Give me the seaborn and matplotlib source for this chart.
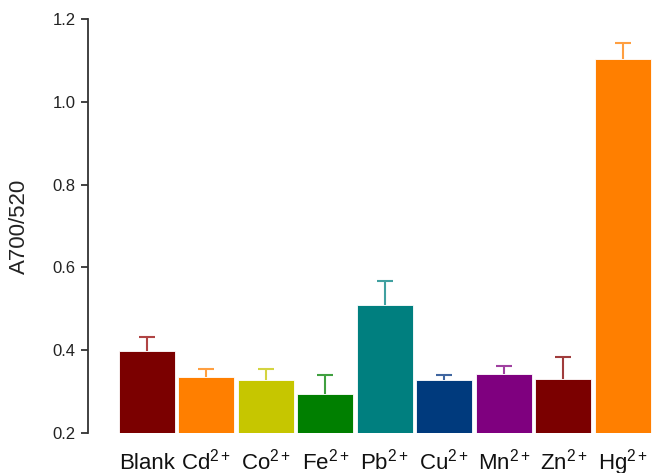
import matplotlib
matplotlib.use("Agg")
import matplotlib.pyplot as plt
import seaborn as sns
import pandas as pd

categories = ["Blank", "Cd$^{2+}$", "Co$^{2+}$", "Fe$^{2+}$", "Pb$^{2+}$",
              "Cu$^{2+}$", "Mn$^{2+}$", "Zn$^{2+}$", "Hg$^{2+}$"]
values = [0.397, 0.336, 0.327, 0.293, 0.508, 0.327, 0.342, 0.331, 1.104]
errors = [0.035, 0.019, 0.028, 0.048, 0.059, 0.014, 0.019, 0.052, 0.039]
bar_colors = ["#7B0000", "#FF7F00", "#C6C600", "#007F00", "#007F7F",
              "#003A7D", "#7F007F", "#7B0000", "#FF7F00"]
err_colors = ["#B04444", "#FF9F40", "#D4D440", "#40A040", "#40A0A0",
              "#4066A0", "#A040A0", "#A03C3C", "#FF9F40"]
yticks = [0.2, 0.4, 0.6, 0.8, 1.0, 1.2]

sns.set_theme(style="white")
plt.rcParams["font.family"] = ["Liberation Sans", "DejaVu Sans"]
plt.rcParams["mathtext.fontset"] = "custom"
plt.rcParams["mathtext.rm"] = "Liberation Sans"
plt.rcParams["mathtext.it"] = "Liberation Sans:italic"
plt.rcParams["mathtext.bf"] = "Liberation Sans:bold"

df = pd.DataFrame({"ion": categories, "value": values})

fig = plt.figure(figsize=(6.52, 4.73), dpi=100)
ax = fig.add_axes([88 / 652, 1 - 433 / 473, (652 - 88) / 652, 414 / 473])

sns.barplot(data=df, x="ion", y="value", hue="ion", palette=bar_colors,
            legend=False, errorbar=None, width=0.94, ax=ax, saturation=1,
            edgecolor="white", linewidth=0.6)

for patch, v, e, c in zip(ax.patches, values, errors, err_colors):
    cx = patch.get_x() + patch.get_width() / 2
    _, caps, _ = ax.errorbar([cx], [v], yerr=[[0], [e]], fmt="none", ecolor=c,
                             elinewidth=1.5, capsize=6, capthick=1.5, zorder=0.5)
    for cap in caps:
        if abs(cap.get_ydata()[0] - v) < 1e-9:
            cap.set_visible(False)

ax.set_ylim(0.2, 1.2)
ax.set_xlim(-0.99, 8.49)
ax.set_yticks(yticks)
ax.set_yticklabels([f"{t:.1f}" for t in yticks], fontsize=12, color="#222222")
ax.set_ylabel("A700/520", fontsize=16, color="#222222", labelpad=16)
ax.set_xlabel("")

for s in ["top", "right", "bottom"]:
    ax.spines[s].set_visible(False)
ax.spines["left"].set_color("#333333")
ax.spines["left"].set_linewidth(1.3)

ax.tick_params(axis="y", direction="out", length=5, width=1.3,
               color="#333333", left=True, pad=4)
ax.tick_params(axis="x", length=0, pad=26, labelsize=16, labelcolor="#111111")
for lbl in ax.get_xticklabels():
    lbl.set_verticalalignment("baseline")

fig.savefig("out.png", dpi=100)
